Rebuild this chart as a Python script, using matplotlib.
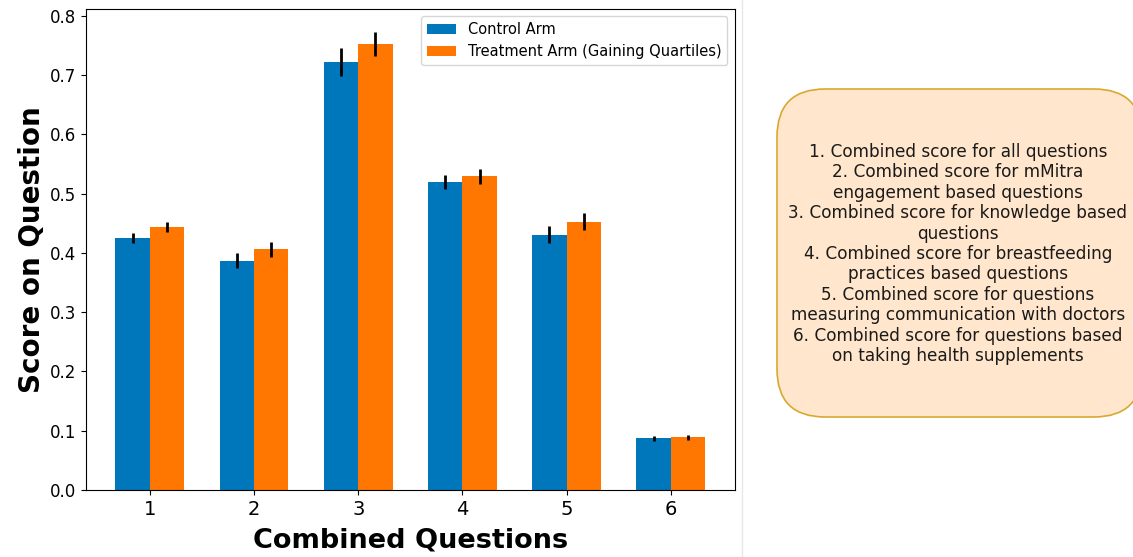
import numpy as np
import matplotlib

matplotlib.use('Agg')
from matplotlib import pyplot as plt
from matplotlib.patches import FancyBboxPatch
from matplotlib.lines import Line2D

# values
questions = [1, 2, 3, 4, 5, 6]
control_mean = [0.425, 0.387, 0.722, 0.520, 0.431, 0.087]
control_err = [0.008, 0.013, 0.023, 0.012, 0.015, 0.004]
treatment_mean = [0.444, 0.406, 0.753, 0.529, 0.453, 0.089]
treatment_err = [0.008, 0.013, 0.020, 0.012, 0.014, 0.004]

series_names = ['Control Arm', 'Treatment Arm (Gaining Quartiles)']

note_lines = ['1. Combined score for all questions',
              '2. Combined score for mMitra',
              'engagement based questions',
              '3. Combined score for knowledge based',
              'questions',
              '4. Combined score for breastfeeding',
              'practices based questions',
              '5. Combined score for questions',
              'measuring communication with doctors',
              '6. Combined score for questions based',
              'on taking health supplements']

fig = plt.figure(figsize=(11.33, 5.57), dpi=100)
ax = fig.add_axes([0.0759, 0.1203, 0.5726, 0.8636])

x = np.array(questions)
width = 0.33

ax.bar(x - width / 2, control_mean, width, yerr=control_err, color='#0077BB',
       error_kw=dict(elinewidth=2, ecolor='black'), label=series_names[0])
ax.bar(x + width / 2, treatment_mean, width, yerr=treatment_err, color='#FF7700',
       error_kw=dict(elinewidth=2, ecolor='black'), label=series_names[1])

ax.set_xticks(x)
ax.tick_params(axis='x', labelsize=14)
ax.tick_params(axis='y', labelsize=12)
ax.set_xlabel('Combined Questions', fontsize=19.5, fontweight='bold', labelpad=6)
ax.set_ylabel('Score on Question', fontsize=20, fontweight='bold', labelpad=3)
ax.legend(loc='upper right', fontsize=10.5)

# overlay in pixel units for the note box on the right
ov = fig.add_axes([0, 0, 1, 1], zorder=-1)
ov.set_xlim(0, 1133)
ov.set_ylim(557, 0)
ov.axis('off')

ov.add_line(Line2D([742, 742], [0, 557], color='#e8e8e8', linewidth=1))

box = FancyBboxPatch((777, 89), 365, 328, boxstyle='round,pad=0,rounding_size=48',
                     facecolor='#FFE6CC', edgecolor='#D9A830', linewidth=1.2)
ov.add_patch(box)
ov.text(958, 254, '\n'.join(note_lines), ha='center', va='center',
        fontsize=12.2, linespacing=1.17, color='#1a1a1a')

fig.savefig('out.png', dpi=100)
